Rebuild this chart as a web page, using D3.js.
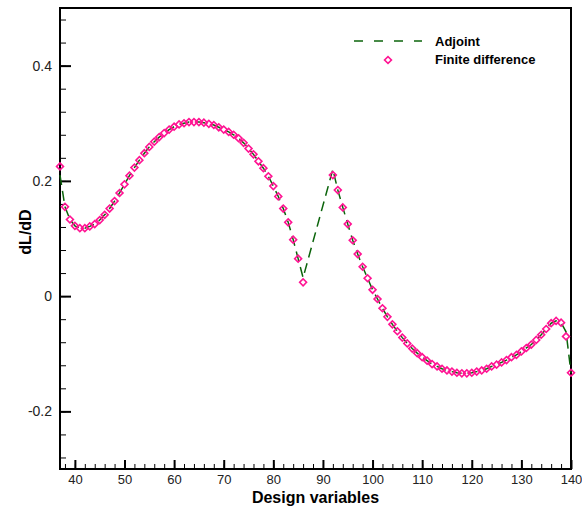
<!DOCTYPE html>
<html>
<head>
<meta charset="utf-8">
<script src="https://cdn.jsdelivr.net/npm/d3@7"></script>
<style>
  body { margin: 0; background: #fff; }
  svg { display: block; font-family: "Liberation Sans", Arial, sans-serif; }
</style>
</head>
<body>
<div id="chart"></div>
<script>
// Design variable numbers (87-91 are missing in the source)
const designVars = [37, 38, 39, 40, 41, 42, 43, 44, 45, 46, 47, 48, 49, 50, 51, 52, 53, 54, 55, 56,
  57, 58, 59, 60, 61, 62, 63, 64, 65, 66, 67, 68, 69, 70, 71, 72, 73, 74, 75, 76,
  77, 78, 79, 80, 81, 82, 83, 84, 85, 86,
  92, 93, 94, 95, 96, 97, 98, 99, 100, 101, 102, 103, 104, 105, 106, 107, 108, 109, 110, 111,
  112, 113, 114, 115, 116, 117, 118, 119, 120, 121, 122, 123, 124, 125, 126, 127, 128, 129, 130, 131,
  132, 133, 134, 135, 136, 137, 138, 139, 140];

// Finite difference gradient
const finiteDiff = [0.225, 0.155, 0.133, 0.122, 0.118, 0.118, 0.121, 0.125, 0.132, 0.141, 0.152, 0.165, 0.179, 0.194, 0.209, 0.223, 0.236, 0.248, 0.259, 0.268,
  0.276, 0.283, 0.289, 0.294, 0.298, 0.300, 0.302, 0.302, 0.302, 0.301, 0.299, 0.297, 0.293, 0.289, 0.285, 0.280, 0.274, 0.266, 0.256, 0.246,
  0.234, 0.222, 0.208, 0.191, 0.173, 0.152, 0.128, 0.098, 0.065, 0.024,
  0.210, 0.184, 0.154, 0.125, 0.097, 0.073, 0.051, 0.031, 0.011, -0.005, -0.021, -0.036, -0.049, -0.061, -0.072, -0.082, -0.091, -0.099, -0.106, -0.112,
  -0.118, -0.122, -0.126, -0.129, -0.131, -0.133, -0.134, -0.134, -0.133, -0.131, -0.129, -0.126, -0.122, -0.119, -0.115, -0.111, -0.106, -0.102, -0.096, -0.090,
  -0.084, -0.076, -0.067, -0.057, -0.047, -0.043, -0.046, -0.070, -0.133];

// Adjoint gradient
const adjoint = [0.210, 0.155, 0.133, 0.122, 0.118, 0.118, 0.121, 0.125, 0.132, 0.141, 0.152, 0.165, 0.179, 0.194, 0.209, 0.223, 0.236, 0.248, 0.259, 0.268,
  0.276, 0.283, 0.289, 0.294, 0.298, 0.300, 0.302, 0.302, 0.302, 0.301, 0.299, 0.297, 0.293, 0.289, 0.285, 0.280, 0.274, 0.266, 0.256, 0.246,
  0.234, 0.222, 0.208, 0.191, 0.173, 0.152, 0.128, 0.098, 0.065, 0.032,
  0.220, 0.184, 0.154, 0.125, 0.097, 0.073, 0.051, 0.031, 0.011, -0.005, -0.021, -0.036, -0.049, -0.061, -0.072, -0.082, -0.091, -0.099, -0.106, -0.112,
  -0.118, -0.122, -0.126, -0.129, -0.131, -0.133, -0.134, -0.134, -0.133, -0.131, -0.129, -0.126, -0.122, -0.119, -0.115, -0.111, -0.106, -0.102, -0.096, -0.090,
  -0.084, -0.076, -0.067, -0.057, -0.047, -0.043, -0.046, -0.062, -0.133];

const xTicks = [40, 50, 60, 70, 80, 90, 100, 110, 120, 130, 140];
const yTicks = [-0.2, 0, 0.2, 0.4];

const lineColor = "#0b640b";
const markColor = "#ff1493";

const W = 582, H = 508;
const margin = {top: 8, right: 11, bottom: 39, left: 60};
const width = W - margin.left - margin.right;
const height = H - margin.top - margin.bottom;

const svg = d3.select("#chart").append("svg")
    .attr("width", W)
    .attr("height", H);

const g = svg.append("g")
    .attr("transform", `translate(${margin.left},${margin.top})`);

const x = d3.scaleLinear().domain([37, 140]).range([0, width]);
const y = d3.scaleLinear().domain([-0.3, 0.5]).range([height, 0]);

// minor ticks
g.append("g")
    .attr("transform", `translate(0,${height})`)
    .call(d3.axisBottom(x).tickValues(d3.range(38, 140, 2)).tickSize(-5).tickFormat(""))
    .call(a => a.select(".domain").remove())
    .call(a => a.selectAll("line").attr("stroke", "#000").attr("stroke-width", 1));

g.append("g")
    .call(d3.axisLeft(y).tickValues(d3.range(-0.28, 0.5, 0.04)).tickSize(-6).tickFormat(""))
    .call(a => a.select(".domain").remove())
    .call(a => a.selectAll("line").attr("stroke", "#000").attr("stroke-width", 1));

// major ticks
g.append("g")
    .attr("transform", `translate(0,${height})`)
    .call(d3.axisBottom(x).tickValues(xTicks).tickSize(-9).tickPadding(6))
    .call(a => a.select(".domain").remove())
    .call(a => a.selectAll("line").attr("stroke", "#000").attr("stroke-width", 2))
    .call(a => a.selectAll("text").attr("fill", "#222").style("font-size", "13px")
        .style("font-family", "'Liberation Sans', Arial, sans-serif"));

g.append("g")
    .call(d3.axisLeft(y).tickValues(yTicks).tickSize(-11).tickPadding(8).tickFormat(d => String(d)))
    .call(a => a.select(".domain").remove())
    .call(a => a.selectAll("line").attr("stroke", "#000").attr("stroke-width", 2))
    .call(a => a.selectAll("text").attr("fill", "#222").style("font-size", "14px")
        .style("font-family", "'Liberation Sans', Arial, sans-serif"));

// frame
g.append("rect")
    .attr("x", 0).attr("y", 0)
    .attr("width", width).attr("height", height)
    .attr("fill", "none")
    .attr("stroke", "#000")
    .attr("stroke-width", 2);

const pts = designVars.map((v, i) => ({v, fd: finiteDiff[i], adj: adjoint[i]}));

const plot = g.append("g");

// adjoint line
plot.append("path")
    .datum(pts)
    .attr("fill", "none")
    .attr("stroke", lineColor)
    .attr("stroke-width", 1.5)
    .attr("stroke-dasharray", "10,6")
    .attr("d", d3.line().x(d => x(d.v)).y(d => y(d.adj)));

// finite difference markers
const diamond = d3.symbol().type(d3.symbolSquare).size(24);
plot.selectAll(".fd")
    .data(pts)
    .join("path")
    .attr("class", "fd")
    .attr("d", diamond)
    .attr("transform", d => `translate(${x(d.v)},${y(d.fd)}) rotate(45)`)
    .attr("fill", "none")
    .attr("stroke", markColor)
    .attr("stroke-width", 1.6);

// legend
const legend = g.append("g");
legend.append("line")
    .attr("x1", 294).attr("x2", 362)
    .attr("y1", 33).attr("y2", 33)
    .attr("stroke", lineColor)
    .attr("stroke-width", 1.5)
    .attr("stroke-dasharray", "9,11");
legend.append("text")
    .attr("x", 375).attr("y", 38)
    .style("font-size", "13px").style("font-weight", "bold")
    .text("Adjoint");
legend.append("path")
    .attr("d", diamond)
    .attr("transform", "translate(328,52) rotate(45)")
    .attr("fill", "none")
    .attr("stroke", markColor)
    .attr("stroke-width", 1.6);
legend.append("text")
    .attr("x", 375).attr("y", 56)
    .style("font-size", "13px").style("font-weight", "bold")
    .text("Finite difference");

// axis titles
svg.append("text")
    .attr("x", margin.left + width / 2)
    .attr("y", 503)
    .attr("text-anchor", "middle")
    .style("font-size", "16px").style("font-weight", "bold")
    .text("Design variables");

svg.append("text")
    .attr("transform", "translate(31,232) rotate(-90)")
    .attr("text-anchor", "middle")
    .style("font-size", "16px").style("font-weight", "bold")
    .text("dL/dD");
</script>
</body>
</html>
